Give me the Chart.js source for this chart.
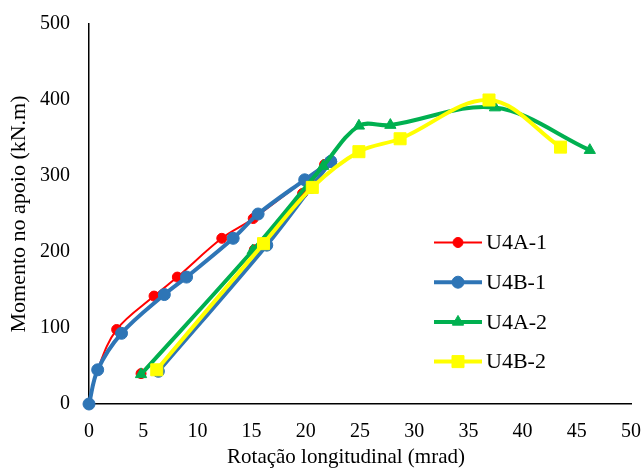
<!DOCTYPE html>
<html>
<head>
<meta charset="utf-8">
<script src="https://cdn.jsdelivr.net/npm/chart.js@4/dist/chart.umd.min.js"></script>
<style>
  html, body { margin: 0; padding: 0; background: #fff; }
  canvas { display: block; }
</style>
</head>
<body>
<canvas id="chart" width="643" height="471"></canvas>
<script>
// Series labels
const seriesNames = ['U4A-1', 'U4B-1', 'U4A-2', 'U4B-2'];

// U4A-1: first loading branch and reloading branch (rotation mrad, moment kN.m)
const u4a1LoadRot   = [0, 0.8, 2.55, 6.0, 8.15, 12.25, 15.15, 21.75];
const u4a1LoadMom   = [0, 45, 98, 142, 167, 218, 244, 315];
const u4a1ReloadRot = [4.8, 15.25, 19.7, 21.75];
const u4a1ReloadMom = [40, 203, 277, 315];

// U4B-1
const u4b1LoadRot   = [0, 0.8, 3.0, 6.95, 9.0, 13.3, 15.6, 19.9, 22.3];
const u4b1LoadMom   = [0, 45, 93, 144, 167, 218, 250, 295, 319];
const u4b1ReloadRot = [6.4, 16.4, 20.5, 22.3];
const u4b1ReloadMom = [43, 209, 285, 319];

// U4A-2
const u4a2Rot = [4.8, 15.1, 21.6, 24.9, 27.8, 37.45, 46.2];
const u4a2Mom = [39, 202, 313, 366, 367, 390, 334];

// U4B-2
const u4b2Rot = [6.25, 16.1, 20.6, 24.9, 28.7, 36.9, 43.5];
const u4b2Mom = [45, 211, 285, 332, 349, 400, 338];

// Axis ticks
const xTickValues = [0, 5, 10, 15, 20, 25, 30, 35, 40, 45, 50];
const yTickValues = [0, 100, 200, 300, 400, 500];

const xTitle = 'Rotação longitudinal (mrad)';
const yTitle = 'Momento no apoio (kN.m)';

// Join branches into one point list, leaving a gap between branches
function toPoints(...branches) {
  const pts = [];
  branches.forEach((b, i) => {
    if (i > 0) pts.push({ x: b[0][0], y: null });
    b[0].forEach((x, k) => pts.push({ x: x, y: b[1][k] }));
  });
  return pts;
}

const SERIF = "'Liberation Serif', 'Times New Roman', serif";

function markerPath(ctx, style, x, y, r) {
  ctx.beginPath();
  if (style === 'triangle') {
    const size = 3 * r / Math.sqrt(3);
    const h = size * Math.sqrt(3) / 2;
    ctx.moveTo(x, y - 2 * h / 3);
    ctx.lineTo(x + size / 2, y + h / 3);
    ctx.lineTo(x - size / 2, y + h / 3);
    ctx.closePath();
  } else if (style === 'rect') {
    const s = r * Math.SQRT1_2;
    ctx.rect(x - s, y - s, 2 * s, 2 * s);
  } else {
    ctx.arc(x, y, r, 0, Math.PI * 2);
  }
}

// Legend drawn inside the plot area on the right
const insideLegend = {
  id: 'insideLegend',
  afterDatasetsDraw(chart, args, opts) {
    const ctx = chart.ctx;
    ctx.save();
    chart.data.datasets.forEach((ds, i) => {
      const y = opts.top + i * opts.rowGap;
      ctx.strokeStyle = ds.borderColor;
      ctx.lineWidth = ds.borderWidth;
      ctx.beginPath();
      ctx.moveTo(opts.lineStart, y);
      ctx.lineTo(opts.lineEnd, y);
      ctx.stroke();
      const mx = (opts.lineStart + opts.lineEnd) / 2;
      markerPath(ctx, ds.pointStyle, mx, y, ds.pointRadius);
      ctx.fillStyle = ds.pointBackgroundColor;
      ctx.fill();
      ctx.lineWidth = 1;
      ctx.strokeStyle = ds.pointBorderColor;
      ctx.stroke();
      ctx.fillStyle = '#000';
      ctx.font = opts.font;
      ctx.textBaseline = 'middle';
      ctx.textAlign = 'left';
      ctx.fillText(ds.label, opts.textX, y + 1);
    });
    ctx.restore();
  }
};

// Horizontal axis title, placed slightly left of the plot centre
const bottomTitle = {
  id: 'bottomTitle',
  afterDraw(chart, args, opts) {
    const ctx = chart.ctx;
    ctx.save();
    ctx.fillStyle = '#000';
    ctx.font = opts.font;
    ctx.textAlign = 'center';
    ctx.textBaseline = 'middle';
    ctx.fillText(opts.text, opts.x, opts.y);
    ctx.restore();
  }
};

const RED = '#FF0000', BLUE = '#2E75B6', GREEN = '#00B050', YELLOW = '#FFFF00';

function series(label, color, width, style, radius, order, data) {
  return {
    label: label,
    data: data,
    borderColor: color,
    backgroundColor: color,
    borderWidth: width,
    pointStyle: style,
    pointRadius: radius,
    pointHoverRadius: radius,
    pointBackgroundColor: color,
    pointBorderColor: color,
    pointBorderWidth: 1,
    tension: 0.35,
    spanGaps: false,
    clip: false,
    order: order
  };
}

new Chart(document.getElementById('chart'), {
  type: 'line',
  data: {
    datasets: [
      series(seriesNames[0], RED, 2, 'circle', 5, 4,
        toPoints([u4a1LoadRot, u4a1LoadMom], [u4a1ReloadRot, u4a1ReloadMom])),
      series(seriesNames[1], BLUE, 4, 'circle', 6, 3,
        toPoints([u4b1LoadRot, u4b1LoadMom], [u4b1ReloadRot, u4b1ReloadMom])),
      series(seriesNames[2], GREEN, 4, 'triangle', 6.5, 2,
        toPoints([u4a2Rot, u4a2Mom])),
      series(seriesNames[3], YELLOW, 4, 'rect', 8.5, 1,
        toPoints([u4b2Rot, u4b2Mom]))
    ]
  },
  options: {
    responsive: false,
    animation: false,
    events: [],
    layout: { padding: { top: 24, right: 12, left: 0, bottom: 0 } },
    plugins: {
      legend: { display: false },
      tooltip: { enabled: false },
      insideLegend: {
        top: 242.5, rowGap: 39.7, lineStart: 434, lineEnd: 482, textX: 486,
        font: "22px " + SERIF
      },
      bottomTitle: { text: xTitle, x: 346, y: 457, font: "21px " + SERIF }
    },
    scales: {
      x: {
        type: 'linear',
        min: 0, max: 50,
        afterBuildTicks: s => { s.ticks = xTickValues.map(v => ({ value: v })); },
        afterFit: s => { s.height = 67; s.paddingRight = 0; s.paddingLeft = 0; },
        grid: { display: false, drawTicks: false },
        border: { display: true, color: '#000', width: 1.5 },
        ticks: { color: '#000', font: { family: SERIF, size: 20 }, padding: 16, maxRotation: 0 },
        title: { display: false }
      },
      y: {
        type: 'linear',
        min: 0, max: 500,
        afterBuildTicks: s => { s.ticks = yTickValues.map(v => ({ value: v })); },
        afterFit: s => { s.width = 89; s.paddingTop = 0; s.paddingBottom = 0; },
        grid: { display: false, drawTicks: false },
        border: { display: true, color: '#000', width: 1.5 },
        ticks: { color: '#000', font: { family: SERIF, size: 20 }, padding: 19 },
        title: {
          display: true, text: yTitle, color: '#000',
          font: { family: SERIF, size: 22 }, padding: { top: 6, bottom: 0 }
        }
      }
    }
  },
  plugins: [insideLegend, bottomTitle]
});
</script>
</body>
</html>
